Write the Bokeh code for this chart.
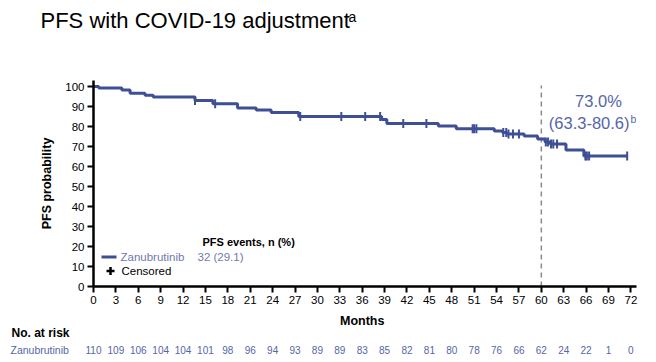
import numpy as np
from bokeh.plotting import figure
from bokeh.layouts import column
from bokeh.models import Range1d, Label, ColumnDataSource, FixedTicker
from bokeh.core.properties import value
from bokeh.embed import file_html
from bokeh.resources import INLINE

# ---------------- data ----------------
event_months = [0, 0.7, 3.8, 4.9, 6.9, 8.0, 13.6, 16.0, 19.3, 21.8, 23.8, 27.5,
                38.6, 39.3, 46.2, 48.6, 53.7, 54.8, 55.4, 57.7, 59.5, 60.5, 61.2,
                63.3, 65.7, 71.5]
survival = [100, 99.2, 98.3, 96.6, 95.6, 94.7, 93.0, 91.4, 89.3, 88.3, 87.0, 85.0,
            83.5, 81.5, 80.3, 78.9, 77.7, 77.0, 76.3, 75.2, 73.8, 72.2, 71.2,
            68.2, 65.3, 65.3]
censor_months = [13.6, 16.3, 27.7, 33.2, 36.4, 38.4, 41.5, 44.6, 50.8, 51.0, 51.3,
                 54.9, 55.3, 55.6, 56.2, 57.0, 60.6, 60.9, 61.3, 61.6, 62.1,
                 65.9, 66.1, 66.4, 71.5]
x_ticks = list(range(0, 73, 3))
y_ticks = list(range(0, 101, 10))
risk_months = list(range(0, 73, 3))
at_risk = [110, 109, 106, 104, 104, 101, 98, 96, 94, 93, 89, 89, 83, 85, 82, 81,
           80, 78, 76, 66, 62, 24, 22, 1, 0]
landmark_month = 60
landmark_text = "73.0%"
landmark_ci = "(63.3-80.6)"
title_text = "PFS with COVID-19 adjustment"

LINE = "#3E4F96"
TXT_BLUE = "#5566A8"
FONT = "Liberation Sans"

W = 650
TOP_H, MAIN_H, BOT_H = 62, 248, 50
BL, BR, BT, BB = 93, 14, 18, 24
XMAX, YMAX = 72.75, 103.0
# main frame in page pixels
FL, FR = BL, W - BR
FT, FB = TOP_H + BT, TOP_H + MAIN_H - BB
XS = (FR - FL) / XMAX


def X(px):
    return (px - FL) / XS


def Y(py):
    return (FB - py) / (FB - FT) * YMAX


def bare(h, xr):
    f = figure(width=W, height=h, output_backend="svg", toolbar_location=None,
               x_range=xr, y_range=Range1d(h, 0), min_border=0,
               min_border_left=0, min_border_right=0, min_border_top=0,
               min_border_bottom=0, x_axis_location=None, y_axis_location=None,
               frame_align=False)
    f.outline_line_color = None
    f.xgrid.visible = False
    f.ygrid.visible = False
    return f


# ---------------- title ----------------
top = bare(TOP_H, Range1d(0, W))
top.text(x=[40], y=[20], text=[title_text], text_font=value(FONT),
         text_font_size="22px", text_color="black", text_baseline="middle")
top.text(x=[348], y=[16], text=["a"], text_font=value(FONT),
         text_font_size="14px", text_color="black", text_baseline="middle")

# ---------------- main plot ----------------
p = figure(width=W, height=MAIN_H, output_backend="svg", toolbar_location=None,
           x_range=Range1d(0, XMAX), y_range=Range1d(0, YMAX),
           min_border_left=BL, min_border_right=BR, min_border_top=BT,
           min_border_bottom=BB, frame_align=False)
p.outline_line_color = None
p.xgrid.visible = False
p.ygrid.visible = False

for ax in (p.xaxis, p.yaxis):
    ax.axis_line_width = 2.5
    ax.axis_line_color = "black"
    ax.major_tick_line_width = 2
    ax.major_tick_line_color = "black"
    ax.major_tick_out = 6
    ax.major_tick_in = 0
    ax.minor_tick_line_color = None
    ax.major_label_text_font = FONT
    ax.major_label_text_font_size = "11.5px"
    ax.major_label_text_color = "black"
    ax.axis_label_text_font = FONT
    ax.axis_label_text_font_style = "bold"
    ax.axis_label_text_font_size = "12.5px"
    ax.axis_label_text_color = "black"
    ax.major_label_standoff = 3

p.xaxis.ticker = FixedTicker(ticks=x_ticks)
p.yaxis.ticker = FixedTicker(ticks=y_ticks)
p.yaxis.axis_label = "PFS probability"
p.yaxis.axis_label_standoff = 8

# landmark dashed line
p.segment(x0=[landmark_month], y0=[0], x1=[landmark_month], y1=[100.5],
          line_color="#8a8a8a", line_width=1.5, line_dash="5 4")

# KM curve
p.step(event_months, survival, mode="after", line_color=LINE, line_width=3)
em = np.array(event_months)
sv = np.array(survival)
cm = np.array(censor_months)
cy = sv[np.searchsorted(em, cm, side="right") - 1]
p.scatter(cm, cy, marker="dash", angle=np.pi / 2, size=9, line_color=LINE,
          line_width=2)

# landmark annotation
p.add_layout(Label(x=X(598), y=Y(109), text=landmark_text, text_align="center",
                   text_font=FONT, text_font_size="16.5px", text_color=TXT_BLUE))
p.add_layout(Label(x=X(629), y=Y(131.5), text=landmark_ci, text_align="right",
                   text_font=FONT, text_font_size="16.5px", text_color=TXT_BLUE))
p.add_layout(Label(x=X(630), y=Y(124), text="b", text_font=FONT,
                   text_font_size="10.5px", text_color=TXT_BLUE))

# legend
p.add_layout(Label(x=X(202), y=Y(247), text="PFS events, n (%)", text_font=FONT,
                   text_font_style="bold", text_font_size="11px", text_color="black"))
p.segment(x0=[X(101)], y0=[Y(256.5)], x1=[X(116)], y1=[Y(256.5)],
          line_color=LINE, line_width=3)
p.add_layout(Label(x=X(120), y=Y(262), text="Zanubrutinib", text_font=FONT,
                   text_font_size="11.5px", text_color="#6f78b0"))
p.add_layout(Label(x=X(197), y=Y(262), text="32 (29.1)", text_font=FONT,
                   text_font_size="11.5px", text_color="#6f78b0"))
p.scatter([X(110)], [Y(270.5)], marker="cross", size=8, line_color="black",
          line_width=2.5)
p.add_layout(Label(x=X(121), y=Y(276), text="Censored", text_font=FONT,
                   text_font_size="11.5px", text_color="black"))

# ---------------- bottom: axis title and number at risk ----------------
bot = bare(BOT_H, Range1d(-FL / XS, (W - FL) / XS))
Y0 = TOP_H + MAIN_H
bot.text(x=[36], y=[320 - Y0], text=["Months"], text_font=value(FONT),
         text_font_style="bold", text_font_size="12.5px", text_color="black",
         text_align="center", text_baseline="middle")
bot.text(x=[X(11)], y=[332.5 - Y0], text=["No. at risk"], text_font=value(FONT),
         text_font_style="bold", text_font_size="12px", text_color="black",
         text_baseline="middle")
bot.text(x=[X(10)], y=[349.5 - Y0], text=["Zanubrutinib"], text_font=value(FONT),
         text_font_size="10.5px", text_color=TXT_BLUE, text_baseline="middle")
risk_src = ColumnDataSource(dict(x=risk_months, y=[349.5 - Y0] * len(risk_months),
                                 t=[str(v) for v in at_risk]))
bot.text(x="x", y="y", text="t", source=risk_src, text_align="center",
         text_font=value(FONT), text_font_size="10px", text_color=TXT_BLUE,
         text_baseline="middle")

layout = column(top, p, bot, spacing=0)
open("out.html", "w").write(file_html(layout, INLINE))
